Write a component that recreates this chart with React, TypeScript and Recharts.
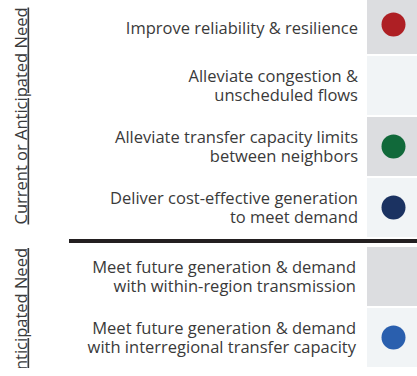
import React from 'react';
import { ComposedChart, Bar, Scatter, XAxis, YAxis, Cell } from 'recharts';

// rows of the table, top block then the block under the black rule
const currentNeeds = [
  'Improve reliability & resilience',
  'Alleviate congestion &\nunscheduled flows',
  'Alleviate transfer capacity limits\nbetween neighbors',
  'Deliver cost-effective generation\nto meet demand',
];
const anticipatedNeeds = [
  'Meet future generation & demand\nwith within-region transmission',
  'Meet future generation & demand\nwith interregional transfer capacity',
];
// which row carries a marker (null = none)
const currentMarks = ['red', null, 'green', 'navy'];
const anticipatedMarks = [null, 'blue'];

const MARK_FILL: Record<string, string> = {
  red: '#ae1f24',
  green: '#11693a',
  navy: '#1b3261',
  blue: '#2a5fae',
};
const SHADE = ['#dcdde0', '#f1f4f6'];
const FONT = '"Open Sans", sans-serif';
const FONT_SIZE = 16.5;
const TEXT = '#3a3a3a';

const buildRows = (needs: string[], marks: (string | null)[]) =>
  needs.map((need, i) => ({ need, cell: 1, mark: marks[i] ? 0.5 : null, kind: marks[i] }));

const NeedTick = (props: any) => {
  const { x, y, payload } = props;
  const lines: string[] = String(payload.value).split('\n');
  const first = lines.length > 1 ? -3.5 : 9;
  return (
    <text x={x} y={y} textAnchor="end" fill={TEXT} fontFamily={FONT} fontSize={FONT_SIZE}>
      {lines.map((l, i) => (
        <tspan key={i} x={x} y={y + first + i * 19}>
          {l}
        </tspan>
      ))}
    </text>
  );
};

const sideLabel = (text: string, where: 'middle' | 'end') => (props: any) => {
  const vb = props.viewBox || { x: 0, y: 0, width: 0, height: 0 };
  const lx = 26.5;
  const ly = where === 'middle' ? vb.y + vb.height / 2 : vb.y + 2;
  return (
    <text
      x={lx}
      y={ly}
      transform={`rotate(-90, ${lx}, ${ly})`}
      textAnchor={where}
      fill={TEXT}
      fontFamily={FONT}
      fontSize={FONT_SIZE}
      style={{ textDecoration: 'underline' }}
    >
      {text}
    </text>
  );
};

function NeedBlock({ rows, start, top, title, anchor, tickMargin }: any) {
  return (
    <div style={{ position: 'absolute', left: 0, top }}>
      <ComposedChart
        width={420}
        height={rows.length * 61}
        data={rows}
        layout="vertical"
        margin={{ top: 0, right: 0, bottom: 0, left: 0 }}
        barCategoryGap={1}
      >
        <XAxis type="number" domain={[0, 1]} hide />
        <YAxis
          type="category"
          dataKey="need"
          width={367}
          axisLine={false}
          tickLine={false}
          tickMargin={tickMargin}
          tick={<NeedTick />}
          interval={0}
          label={sideLabel(title, anchor)}
        />
        <Bar dataKey="cell" isAnimationActive={false}>
          {rows.map((_: any, i: number) => (
            <Cell key={i} fill={SHADE[(start + i) % 2]} />
          ))}
        </Bar>
        <Scatter
          dataKey="mark"
          isAnimationActive={false}
          shape={(p: any) =>
            p.payload.kind ? <circle cx={p.cx} cy={p.cy} r={12} fill={MARK_FILL[p.payload.kind]} /> : <g />
          }
        />
      </ComposedChart>
    </div>
  );
}

export default function App() {
  const top = buildRows(currentNeeds, currentMarks);
  const bottom = buildRows(anticipatedNeeds, anticipatedMarks);
  return (
    <div
      style={{
        position: 'absolute',
        left: 0,
        top: 0,
        width: 417,
        height: 376,
        overflow: 'hidden',
        background: '#fff',
      }}
    >
      <NeedBlock rows={top} start={0} top={-6} title="Current or Anticipated Need" anchor="middle" tickMargin={3} />
      <div style={{ position: 'absolute', left: 69, top: 239, width: 360, height: 4, background: '#231f20' }} />
      <NeedBlock rows={bottom} start={4} top={246} title="Anticipated Need" anchor="end" tickMargin={5} />
    </div>
  );
}
